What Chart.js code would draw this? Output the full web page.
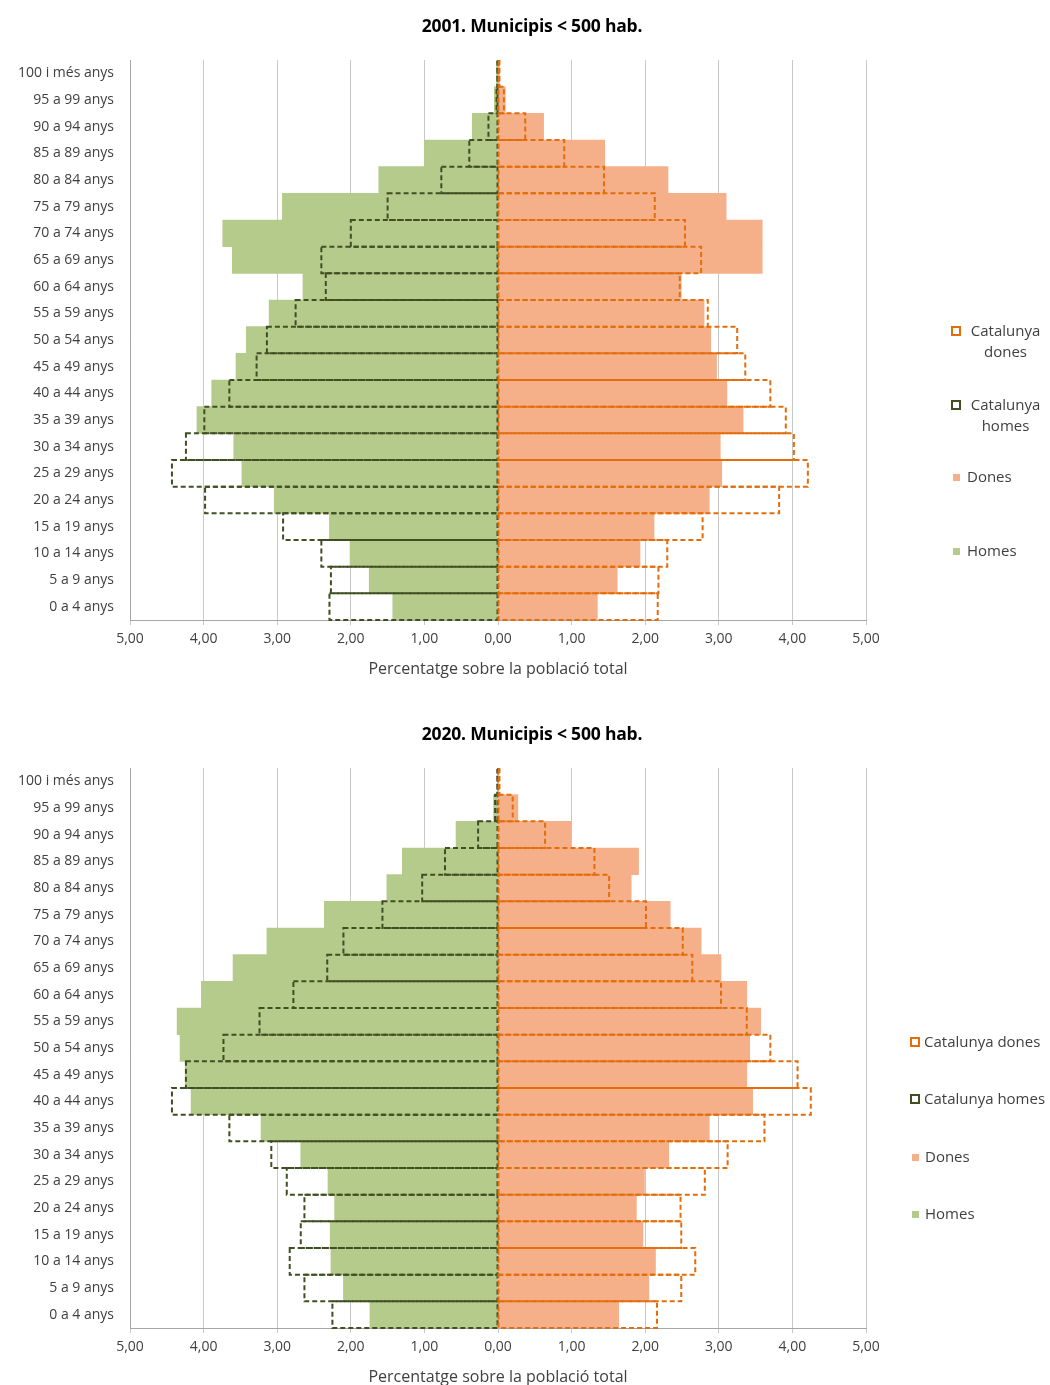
<!DOCTYPE html>
<html>
<head>
<meta charset="utf-8">
<script src="https://cdn.jsdelivr.net/npm/chart.js@4.4.1/dist/chart.umd.min.js"></script>
<style>
  html, body { margin:0; padding:0; background:#fff; overflow:hidden; }
  body { width:1050px; height:1385px; position:relative; font-family: "Open Sans", sans-serif; }
  .wrap { position:absolute; left:0; width:1050px; height:700px; }
  .ttl { position:absolute; left:332px; width:400px; text-align:center; font-family:"Open Sans", sans-serif;
         font-weight:bold; font-size:17.5px; color:#000; line-height:22px; letter-spacing:-0.2px; }
  .lg { position:absolute; font-family:"Open Sans", sans-serif; font-size:15px; color:#404040; line-height:21px; }
  .lg .ic { position:absolute; box-sizing:border-box; }
</style>
</head>
<body>
<div class="wrap" style="top:0"><canvas id="c1" width="1050" height="700"></canvas></div>
<div class="wrap" style="top:708px"><canvas id="c2" width="1050" height="700"></canvas></div>

<div class="ttl" id="t1" style="top:14px;"></div>
<div class="ttl" id="t2" style="top:722px;"></div>

<!-- legend chart 1 -->
<div class="lg" style="left:951px;top:320px;width:97px;">
  <div class="ic" style="left:0;top:6px;width:10px;height:10px;border:2px dashed #e46c0a;"></div>
  <div style="margin-left:12px;text-align:center;">Catalunya<br>dones</div>
</div>
<div class="lg" style="left:951px;top:394px;width:97px;">
  <div class="ic" style="left:0;top:6px;width:10px;height:10px;border:2px dashed #3f4f22;"></div>
  <div style="margin-left:12px;text-align:center;">Catalunya<br>homes</div>
</div>
<div class="lg" style="left:953px;top:466px;">
  <div class="ic" style="left:0;top:8px;width:7px;height:7px;background:#f6b089;"></div>
  <div style="margin-left:14px;">Dones</div>
</div>
<div class="lg" style="left:953px;top:540px;">
  <div class="ic" style="left:0;top:8px;width:7px;height:7px;background:#b5cb8c;"></div>
  <div style="margin-left:14px;">Homes</div>
</div>

<!-- legend chart 2 -->
<div class="lg" style="left:910px;top:1031px;">
  <div class="ic" style="left:0;top:6px;width:10px;height:10px;border:2px dashed #e46c0a;"></div>
  <div style="margin-left:14px;">Catalunya dones</div>
</div>
<div class="lg" style="left:910px;top:1088px;">
  <div class="ic" style="left:0;top:6px;width:10px;height:10px;border:2px dashed #3f4f22;"></div>
  <div style="margin-left:14px;">Catalunya homes</div>
</div>
<div class="lg" style="left:912px;top:1146px;">
  <div class="ic" style="left:0;top:8px;width:7px;height:7px;background:#f6b089;"></div>
  <div style="margin-left:13px;">Dones</div>
</div>
<div class="lg" style="left:912px;top:1203px;">
  <div class="ic" style="left:0;top:8px;width:7px;height:7px;background:#b5cb8c;"></div>
  <div style="margin-left:13px;">Homes</div>
</div>

<script>
// ---- DATA ----
const categories = ['100 i més anys','95 a 99 anys','90 a 94 anys','85 a 89 anys','80 a 84 anys','75 a 79 anys',
  '70 a 74 anys','65 a 69 anys','60 a 64 anys','55 a 59 anys','50 a 54 anys','45 a 49 anys','40 a 44 anys',
  '35 a 39 anys','30 a 34 anys','25 a 29 anys','20 a 24 anys','15 a 19 anys','10 a 14 anys','5 a 9 anys','0 a 4 anys'];

const seriesNames = ['Catalunya dones','Catalunya homes','Dones','Homes'];

const homes2001     = [0.02,0.05,0.35,1.00,1.62,2.93,3.74,3.61,2.65,3.11,3.42,3.56,3.89,4.09,3.59,3.48,3.04,2.29,2.01,1.75,1.43];
const catHomes2001  = [0.01,0.02,0.13,0.39,0.77,1.50,2.00,2.40,2.34,2.75,3.14,3.28,3.65,3.99,4.24,4.43,3.98,2.92,2.40,2.27,2.29];
const dones2001     = [0.02,0.10,0.62,1.45,2.31,3.10,3.59,3.59,2.49,2.80,2.89,2.97,3.11,3.33,3.02,3.04,2.87,2.12,1.93,1.62,1.35];
const catDones2001  = [0.02,0.08,0.37,0.90,1.44,2.13,2.54,2.76,2.47,2.85,3.25,3.36,3.70,3.91,4.02,4.21,3.82,2.78,2.30,2.18,2.17];

const homes2020     = [0.01,0.06,0.57,1.30,1.51,2.36,3.14,3.60,4.03,4.36,4.32,4.25,4.17,3.22,2.68,2.31,2.22,2.28,2.27,2.10,1.74];
const catHomes2020  = [0.01,0.04,0.27,0.72,1.03,1.57,2.10,2.32,2.78,3.24,3.73,4.24,4.43,3.65,3.08,2.87,2.63,2.68,2.83,2.63,2.25];
const dones2020     = [0.01,0.27,0.99,1.91,1.81,2.34,2.76,3.03,3.38,3.57,3.42,3.38,3.46,2.87,2.32,1.99,1.88,1.97,2.14,2.05,1.64];
const catDones2020  = [0.02,0.20,0.64,1.31,1.51,2.01,2.51,2.64,3.03,3.38,3.70,4.07,4.25,3.62,3.12,2.81,2.48,2.49,2.68,2.49,2.16];

const titles = ['2001. Municipis < 500 hab.', '2020. Municipis < 500 hab.'];
const axisTitle = 'Percentatge sobre la població total';
const xMin = -5, xMax = 5, xStep = 1;

document.getElementById('t1').textContent = titles[0];
document.getElementById('t2').textContent = titles[1];

// ---- CHART ----
const neg = a => a.map(v => -v);
const fmt = v => Math.abs(v).toFixed(2).replace('.', ',');

// Chart.js bars have no dashed borders: stroke dashed outlines from the bar elements' own geometry
const dashedOutline = {
  id: 'dashedOutline',
  afterDatasetsDraw(chart) {
    const ctx = chart.ctx;
    const area = chart.chartArea;
    [1, 0].forEach(i => {
      const ds = chart.data.datasets[i];
      if (!ds.outlineColor) return;
      const meta = chart.getDatasetMeta(i);
      ctx.save();
      ctx.strokeStyle = ds.outlineColor;
      ctx.lineWidth = 2;
      ctx.setLineDash([5, 3]);
      meta.data.forEach(el => {
        const p = el.getProps(['x', 'y', 'base', 'height'], true);
        const l = Math.min(p.x, p.base), r = Math.max(p.x, p.base);
        const t = p.y - p.height / 2;
        ctx.strokeRect(l, Math.max(t, area.top + 1), r - l, p.height - Math.max(0, area.top + 1 - t));
      });
      ctx.restore();
    });
  }
};

function makeChart(id, homes, catHomes, dones, catDones) {
  const common = { grouped:false, barPercentage:1, categoryPercentage:1 };
  new Chart(document.getElementById(id), {
    type: 'bar',
    data: {
      labels: categories,
      datasets: [
        Object.assign({ label: seriesNames[0], data: catDones, backgroundColor:'rgba(0,0,0,0)',
          borderWidth:0, outlineColor:'#e46c0a', order:0 }, common),
        Object.assign({ label: seriesNames[1], data: neg(catHomes), backgroundColor:'rgba(0,0,0,0)',
          borderWidth:0, outlineColor:'#3f4f22', order:1 }, common),
        Object.assign({ label: seriesNames[2], data: dones, backgroundColor:'#f6b089', borderWidth:0, order:2 }, common),
        Object.assign({ label: seriesNames[3], data: neg(homes), backgroundColor:'#b5cb8c', borderWidth:0, order:3 }, common)
      ]
    },
    plugins: [dashedOutline],
    options: {
      indexAxis: 'y',
      responsive: false,
      animation: false,
      layout: { padding: { left:0, right:184, top:60, bottom:0 } },
      plugins: {
        legend: { display:false },
        tooltip: { enabled:false },
        title: { display:false }
      },
      scales: {
        x: {
          min:xMin, max:xMax,
          ticks: { stepSize:xStep, callback: v => fmt(v), color:'#404040',
            font:{ family:'Open Sans', size:14 }, padding:6, maxRotation:0 },
          grid: { color:'#c8c8c8', lineWidth:1, tickLength:5, drawTicks:true },
          border: { display:true, color:'#a6a6a6' },
          title: { display:true, text:axisTitle, color:'#404040',
            font:{ family:'Open Sans', size:16 }, padding:{ top:0, bottom:21 } },
          afterFit: s => { s.height = 80; }
        },
        y: {
          ticks: { color:'#404040', font:{ family:'Open Sans', size:14 }, padding:8, autoSkip:false },
          grid: { display:false },
          border: { display:true, color:'#a6a6a6' },
          afterFit: s => { s.width = 130; }
        }
      }
    }
  });
}

makeChart('c1', homes2001, catHomes2001, dones2001, catDones2001);
makeChart('c2', homes2020, catHomes2020, dones2020, catDones2020);
</script>
</body>
</html>
